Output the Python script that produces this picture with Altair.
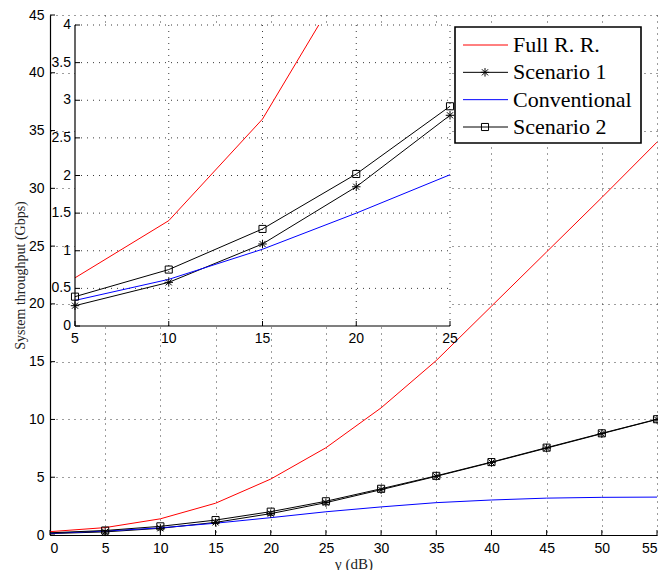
import altair as alt
import pandas as pd

# ---------------- data ----------------
gamma = [0, 5, 10, 15, 20, 25, 30, 35, 40, 45, 50, 55]
full_rr = [0.29, 0.64, 1.40, 2.75, 4.84, 7.55, 11.0, 15.1, 19.8, 24.5, 29.2, 34.0]
scenario1 = [0.12, 0.27, 0.58, 1.09, 1.85, 2.80, 3.92, 5.08, 6.28, 7.52, 8.77, 10.0]
conventional = [0.15, 0.34, 0.62, 1.02, 1.50, 2.01, 2.43, 2.80, 3.03, 3.19, 3.26, 3.28]
scenario2 = [0.19, 0.39, 0.75, 1.29, 2.02, 2.92, 4.00, 5.12, 6.31, 7.56, 8.80, 10.02]

# red curve inside the zoomed inset, where it leaves the inset's frame at 4 Gbps
inset_rr_gamma = [5, 10, 15, 18]
inset_rr = [0.64, 1.40, 2.75, 4.0]

series_names = ["Full R. R.", "Scenario 1", "Conventional", "Scenario 2"]
series_colors = ["#ff0000", "#000000", "#0000ff", "#000000"]

main_xticks = [0, 5, 10, 15, 20, 25, 30, 35, 40, 45, 50, 55]
main_yticks = [0, 5, 10, 15, 20, 25, 30, 35, 40, 45]
inset_xticks = [5, 10, 15, 20, 25]
inset_yticks = [0, 0.5, 1, 1.5, 2, 2.5, 3, 3.5, 4]
inset_ylabels = ["0", "0.5", "1", "1.5", "2", "2.5", "3", "3.5", "4"]

# ---------------- tables ----------------
rows = []
for name, vals in zip(series_names, [full_rr, scenario1, conventional, scenario2]):
    for g, v in zip(gamma, vals):
        rows.append({"series": name, "gamma": g, "value": v})
df = pd.DataFrame(rows)

inset_rows = [r for r in rows if r["series"] != "Full R. R." and inset_xticks[0] <= r["gamma"] <= inset_xticks[-1]]
inset_rows += [{"series": "Full R. R.", "gamma": g, "value": v} for g, v in zip(inset_rr_gamma, inset_rr)]
df_in = pd.DataFrame(inset_rows)

STAR = "M-1,0L1,0M0,-1L0,1M-0.72,-0.72L0.72,0.72M-0.72,0.72L0.72,-0.72"
STAR_SIZE = 72
SQ_SIZE = 50
TICK_LEN = 5

W, H = 607, 520
SANS = "Liberation Sans"
SERIF = "Liberation Serif"
GRID_DASH = [1, 5]
GRID_COLOR = "#3a3a3a"

color_scale = alt.Scale(domain=series_names, range=series_colors)

# ---------------- main axes ----------------
xs_main = alt.Scale(domain=[0, 55], nice=False, zero=False)
ys_main = alt.Scale(domain=[0, 45], nice=False)

main_x_axis = alt.Axis(values=main_xticks, title="γ (dB)", grid=True, ticks=False,
                       labelPadding=6, labelFont=SANS, labelFontSize=14, labelColor="black",
                       domainColor="black", domainWidth=1.2,
                       gridDash=GRID_DASH, gridColor=GRID_COLOR, gridOpacity=1,
                       titleFont=SERIF, titleFontSize=15, titleFontWeight="normal",
                       titleColor="#222", titleY=28, titleBaseline="middle")
main_y_axis = alt.Axis(values=main_yticks, title="System throughput (Gbps)", grid=True, ticks=False,
                       labelPadding=6, labelFont=SANS, labelFontSize=14, labelColor="black",
                       domainColor="black", domainWidth=1.2,
                       gridDash=GRID_DASH, gridColor=GRID_COLOR, gridOpacity=1,
                       titleFont=SERIF, titleFontSize=14, titleFontWeight="normal",
                       titleColor="#222", titleX=-30, titleY=H / 2, titleAngle=270,
                       titleBaseline="middle", titleAlign="center")

main_lines = alt.Chart(df).mark_line(strokeWidth=1).encode(
    x=alt.X("gamma:Q", scale=xs_main, axis=main_x_axis),
    y=alt.Y("value:Q", scale=ys_main, axis=main_y_axis),
    color=alt.Color("series:N", scale=color_scale, legend=None),
)
main_stars = alt.Chart(df[(df.series == "Scenario 1") & (df.gamma >= 5)]).mark_point(
    shape=STAR, size=STAR_SIZE, filled=False, color="black", strokeWidth=1, opacity=1
).encode(x=alt.X("gamma:Q", scale=xs_main), y=alt.Y("value:Q", scale=ys_main))
main_squares = alt.Chart(df[(df.series == "Scenario 2") & (df.gamma >= 5)]).mark_point(
    shape="square", size=SQ_SIZE, filled=False, color="black", strokeWidth=1, opacity=1
).encode(x=alt.X("gamma:Q", scale=xs_main), y=alt.Y("value:Q", scale=ys_main))

# inward tick marks (MATLAB style)
main_yt = alt.Chart(pd.DataFrame({"t": main_yticks})).mark_rule(
    color="black", strokeWidth=1, x2Offset=TICK_LEN
).encode(y=alt.Y("t:Q", scale=ys_main),
         x=alt.X(datum=0, type="quantitative", scale=xs_main), x2=alt.X2(datum=0))
main_xt = alt.Chart(pd.DataFrame({"t": main_xticks})).mark_rule(
    color="black", strokeWidth=1, y2Offset=-TICK_LEN
).encode(x=alt.X("t:Q", scale=xs_main),
         y=alt.Y(datum=0, type="quantitative", scale=ys_main), y2=alt.Y2(datum=0))

main_layer = alt.layer(main_lines, main_stars, main_squares, main_yt, main_xt)

# ---------------- inset axes ----------------
IN_L, IN_R, IN_T, IN_B = 25, 400, 10, 311
xs_in = alt.Scale(domain=[inset_xticks[0], inset_xticks[-1]], range=[IN_L, IN_R], nice=False, zero=False)
ys_in = alt.Scale(domain=[inset_yticks[0], inset_yticks[-1]], range=[IN_B, IN_T], nice=False)
X0, X1 = inset_xticks[0], inset_xticks[-1]
Y0, Y1 = inset_yticks[0], inset_yticks[-1]

frame = pd.DataFrame({"x0": [X0], "x1": [X1], "y0": [Y0], "y1": [Y1]})
inset_bg = alt.Chart(frame).mark_rect(fill="white").encode(
    x=alt.X("x0:Q", scale=xs_in, axis=None), x2="x1:Q",
    y=alt.Y("y0:Q", scale=ys_in, axis=None), y2="y1:Q",
)
vgrid = alt.Chart(pd.DataFrame({"g": inset_xticks[1:]})).mark_rule(
    strokeDash=GRID_DASH, color=GRID_COLOR, strokeWidth=1
).encode(x=alt.X("g:Q", scale=xs_in, axis=None),
         y=alt.Y(datum=Y0, type="quantitative", scale=ys_in, axis=None),
         y2=alt.Y2(datum=Y1))
hgrid = alt.Chart(pd.DataFrame({"g": inset_yticks[1:]})).mark_rule(
    strokeDash=GRID_DASH, color=GRID_COLOR, strokeWidth=1
).encode(y=alt.Y("g:Q", scale=ys_in, axis=None),
         x=alt.X(datum=X0, type="quantitative", scale=xs_in, axis=None),
         x2=alt.X2(datum=X1))
# inset axis lines
x_domain = alt.Chart(frame).mark_rule(color="black", strokeWidth=1.2).encode(
    x=alt.X("x0:Q", scale=xs_in, axis=None), x2="x1:Q",
    y=alt.Y("y0:Q", scale=ys_in, axis=None))
y_domain = alt.Chart(frame).mark_rule(color="black", strokeWidth=1.2).encode(
    x=alt.X("x0:Q", scale=xs_in, axis=None),
    y=alt.Y("y0:Q", scale=ys_in, axis=None), y2="y1:Q")
# inset inward ticks
in_yt = alt.Chart(pd.DataFrame({"t": inset_yticks})).mark_rule(
    color="black", strokeWidth=1, x2Offset=TICK_LEN
).encode(y=alt.Y("t:Q", scale=ys_in, axis=None),
         x=alt.X(datum=X0, type="quantitative", scale=xs_in, axis=None), x2=alt.X2(datum=X0))
in_xt = alt.Chart(pd.DataFrame({"t": inset_xticks})).mark_rule(
    color="black", strokeWidth=1, y2Offset=-TICK_LEN
).encode(x=alt.X("t:Q", scale=xs_in, axis=None),
         y=alt.Y(datum=Y0, type="quantitative", scale=ys_in, axis=None), y2=alt.Y2(datum=Y0))
# inset tick labels
x_labels = alt.Chart(pd.DataFrame({"t": inset_xticks})).mark_text(
    baseline="top", dy=6, font=SANS, fontSize=14, color="black"
).encode(x=alt.X("t:Q", scale=xs_in, axis=None),
         y=alt.Y(datum=Y0, type="quantitative", scale=ys_in, axis=None),
         text=alt.Text("t:Q", format="d"))
y_labels = alt.Chart(pd.DataFrame({"t": inset_yticks, "lab": inset_ylabels})).mark_text(
    align="right", baseline="middle", dx=-4, font=SANS, fontSize=14, color="black"
).encode(y=alt.Y("t:Q", scale=ys_in, axis=None),
         x=alt.X(datum=X0, type="quantitative", scale=xs_in, axis=None),
         text="lab:N")

inset_lines = alt.Chart(df_in).mark_line(strokeWidth=1).encode(
    x=alt.X("gamma:Q", scale=xs_in, axis=None),
    y=alt.Y("value:Q", scale=ys_in, axis=None),
    color=alt.Color("series:N", scale=color_scale, legend=None),
)
inset_stars = alt.Chart(df_in[df_in.series == "Scenario 1"]).mark_point(
    shape=STAR, size=STAR_SIZE, filled=False, color="black", strokeWidth=1, opacity=1
).encode(x=alt.X("gamma:Q", scale=xs_in, axis=None), y=alt.Y("value:Q", scale=ys_in, axis=None))
inset_squares = alt.Chart(df_in[df_in.series == "Scenario 2"]).mark_point(
    shape="square", size=SQ_SIZE, filled=False, color="black", strokeWidth=1, opacity=1
).encode(x=alt.X("gamma:Q", scale=xs_in, axis=None), y=alt.Y("value:Q", scale=ys_in, axis=None))

inset_layer = alt.layer(inset_bg, vgrid, hgrid, inset_lines, inset_stars, inset_squares,
                        in_yt, in_xt, x_domain, y_domain, x_labels, y_labels)

# ---------------- legend ----------------
leg = pd.DataFrame({"series": series_names})
leg_y = alt.Y("series:N", scale=alt.Scale(type="point", domain=series_names, range=[30, 112], padding=0),
              axis=None)
leg_box = alt.Chart(pd.DataFrame({"k": [0]})).mark_rect(
    fill="white", stroke="black", strokeWidth=1.6
).encode(x=alt.value(405), x2=alt.value(591), y=alt.value(12), y2=alt.value(128))
leg_lines = alt.Chart(leg).mark_rule(strokeWidth=1).encode(
    x=alt.value(413), x2=alt.value(458), y=leg_y,
    color=alt.Color("series:N", scale=color_scale, legend=None),
)
leg_stars = alt.Chart(leg[leg.series == "Scenario 1"]).mark_point(
    shape=STAR, size=STAR_SIZE, filled=False, color="black", strokeWidth=1, opacity=1
).encode(x=alt.value(435), y=leg_y)
leg_squares = alt.Chart(leg[leg.series == "Scenario 2"]).mark_point(
    shape="square", size=SQ_SIZE, filled=False, color="black", strokeWidth=1, opacity=1
).encode(x=alt.value(435), y=leg_y)
leg_text = alt.Chart(leg).mark_text(
    align="left", baseline="middle", font=SERIF, fontSize=22, color="black"
).encode(x=alt.value(463), y=leg_y, text="series:N")

legend_layer = alt.layer(leg_box, leg_lines, leg_stars, leg_squares, leg_text)

chart = alt.layer(main_layer, inset_layer, legend_layer).resolve_scale(
    x="independent", y="independent"
).properties(
    width=W, height=H,
    autosize=alt.AutoSizeParams(type="none"),
    padding={"left": 42, "top": 7, "right": 1, "bottom": 35},
    background="white",
).configure_view(stroke=None)

chart.save("out.html", embed_options={"renderer": "svg", "actions": False})
